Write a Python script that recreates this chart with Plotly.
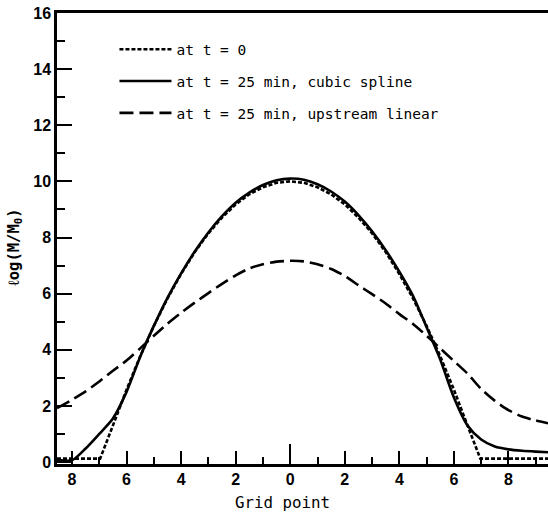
import plotly.graph_objects as go

# Grid points (signed) and values
x_init = [-8.55, -6.97, -6.5, -6.0, -5.5, -5.0, -4.5, -4.0, -3.5, -3.0, -2.5, -2.0, -1.5, -1.0, -0.5, 0.0,
          0.5, 1.0, 1.5, 2.0, 2.5, 3.0, 3.5, 4.0, 4.5, 5.0, 5.5, 6.0, 6.5, 6.97, 9.45]
y_init = [0.12, 0.12, 1.30, 2.58, 3.77, 4.85, 5.83, 6.70, 7.48, 8.15, 8.71, 9.18, 9.54, 9.79, 9.95, 10.0,
          9.95, 9.79, 9.54, 9.18, 8.71, 8.15, 7.48, 6.70, 5.83, 4.85, 3.77, 2.58, 1.30, 0.12, 0.12]

x_spline = [-8.55, -8.0, -7.5, -7.0, -6.5, -6.0, -5.5, -5.0, -4.5, -4.0, -3.5, -3.0, -2.5, -2.0, -1.5, -1.0, -0.5, 0.0,
            0.5, 1.0, 1.5, 2.0, 2.5, 3.0, 3.5, 4.0, 4.5, 5.0, 5.5, 6.0, 6.5, 7.0, 7.5, 8.0, 8.5, 9.0, 9.45]
y_spline = [0.08, 0.06, 0.48, 1.00, 1.55, 2.50, 3.75, 4.85, 5.85, 6.72, 7.50, 8.18, 8.76, 9.24, 9.60, 9.87, 10.04, 10.1,
            10.06, 9.90, 9.64, 9.28, 8.80, 8.22, 7.55, 6.78, 5.92, 4.80, 3.65, 2.30, 1.30, 0.80, 0.55, 0.45, 0.40, 0.37, 0.35]

x_upstream = [-8.55, -8.0, -7.5, -7.0, -6.5, -6.0, -5.5, -5.0, -4.5, -4.0, -3.5, -3.0, -2.5, -2.0, -1.5, -1.0, -0.5, 0.0,
              0.5, 1.0, 1.5, 2.0, 2.5, 3.0, 3.5, 4.0, 4.5, 5.0, 5.5, 6.0, 6.5, 7.0, 7.5, 8.0, 8.5, 9.0, 9.45]
y_upstream = [1.92, 2.22, 2.52, 2.87, 3.25, 3.62, 4.05, 4.50, 4.93, 5.32, 5.68, 6.02, 6.35, 6.65, 6.90, 7.05, 7.14, 7.17,
              7.15, 7.05, 6.88, 6.63, 6.30, 5.98, 5.65, 5.27, 4.92, 4.50, 4.05, 3.60, 3.15, 2.60, 2.18, 1.85, 1.62, 1.48, 1.38]

x_tickvals = [-8, -6, -4, -2, 0, 2, 4, 6, 8]
x_ticktext = ["8", "6", "4", "2", "0", "2", "4", "6", "8"]
x_minor = [-7, -5, -3, -1, 1, 3, 5, 7, 9]
y_tickvals = [0, 2, 4, 6, 8, 10, 12, 14, 16]
y_minor = [1, 3, 5, 7, 9, 11, 13, 15]

labels = ["at t = 0", "at t = 25 min, cubic spline", "at t = 25 min, upstream linear"]

fig = go.Figure()
fig.add_trace(go.Scatter(x=x_init, y=y_init, mode="lines", name=labels[0], legendgroup="a",
                         line=dict(color="black", width=2.6, dash="4px,2px")))
fig.add_trace(go.Scatter(x=x_spline, y=y_spline, mode="lines", name=labels[1], legendgroup="b",
                         line=dict(color="black", width=2.6, shape="spline", smoothing=0.7)))
fig.add_trace(go.Scatter(x=x_upstream, y=y_upstream, mode="lines", name=labels[2], legendgroup="c",
                         line=dict(color="black", width=2.6, dash="14px,6px", shape="spline", smoothing=0.6)))
# helper trace to carry the long zero tick axis
fig.add_trace(go.Scatter(x=[0], y=[None], xaxis="x2", showlegend=False, hoverinfo="skip"))

tickfont = dict(family="Liberation Sans Narrow, Liberation Sans, Arial", size=16, color="black", weight="bold")

fig.update_layout(
    width=548, height=513,
    margin=dict(l=57, r=0, t=13, b=49),
    paper_bgcolor="white", plot_bgcolor="white",
    showlegend=True,
    legend=dict(x=0.117, y=0.955, xanchor="left", yanchor="top", itemwidth=52,
                font=dict(family="DejaVu Sans Mono", size=14.5, color="black"),
                bgcolor="rgba(0,0,0,0)", traceorder="grouped", tracegroupgap=10),
    xaxis=dict(range=[-8.55, 9.45], tickvals=x_tickvals, ticktext=x_ticktext,
               ticks="inside", ticklen=13, tickwidth=2, tickcolor="black",
               minor=dict(tickvals=x_minor, ticks="inside", ticklen=7, tickwidth=2, tickcolor="black"),
               showline=True, linewidth=2.5, linecolor="black", mirror=True,
               showgrid=False, zeroline=False, tickfont=tickfont, ticklabelstandoff=-1),
    xaxis2=dict(overlaying="x", matches="x", range=[-8.55, 9.45], tickvals=[0], showticklabels=False,
                ticks="inside", ticklen=20, tickwidth=2, tickcolor="black",
                side="bottom", showline=False, showgrid=False, zeroline=False),
    yaxis=dict(range=[-0.07, 16], tickvals=y_tickvals,
               ticks="inside", ticklen=15, tickwidth=2, tickcolor="black",
               minor=dict(tickvals=y_minor, ticks="inside", ticklen=8, tickwidth=2, tickcolor="black"),
               showline=True, linewidth=2.5, linecolor="black",
               showgrid=False, zeroline=False, tickfont=tickfont),
    annotations=[
        dict(text="Grid point", xref="x", yref="paper", x=-0.3, y=-0.085, showarrow=False,
             xanchor="center", yanchor="middle",
             font=dict(family="DejaVu Sans Mono", size=15.8, color="black")),
        dict(text="ℓog(M/M<sub>0</sub>)", xref="paper", yref="paper", x=-0.0855, y=0.481, showarrow=False,
             textangle=-90, xanchor="center", yanchor="middle",
             font=dict(family="DejaVu Sans Mono", size=15.5, color="black", weight="bold")),
    ],
)

# remove the page's default 8px body margin so the figure fills the window exactly
fig.write_html("out.html", config={"displayModeBar": False},
               post_script="document.body.style.margin='0';")
